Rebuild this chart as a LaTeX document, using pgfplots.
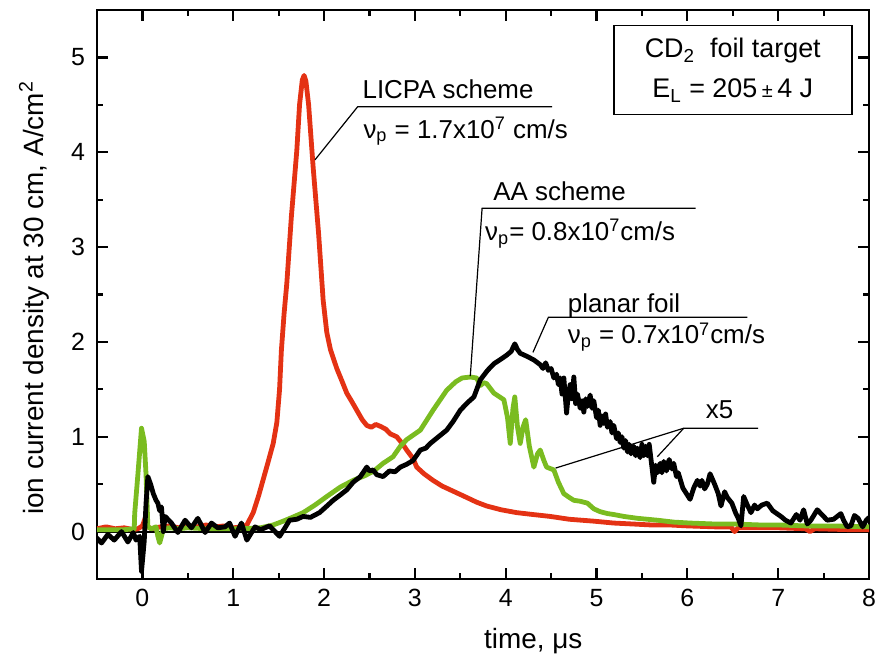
\documentclass[border=0pt]{standalone}
\usepackage{fontspec}
\setmainfont{Liberation Sans}
\usepackage{pgfplots}
\pgfplotsset{compat=1.18}
\definecolor{licpa}{RGB}{228,50,20}
\definecolor{aagreen}{RGB}{122,188,32}
\newcommand{\annfont}{\fontsize{13}{15}\selectfont}
\begin{document}
\begin{tikzpicture}
\begin{axis}[
  scale only axis, width=386bp, height=284.5bp,
  xmin=-0.5, xmax=8, ymin=-0.5, ymax=5.5,
  xtick={0,1,2,3,4,5,6,7,8}, ytick={0,1,2,3,4,5},
  minor x tick num=1, minor y tick num=1,
  xtick pos=both, ytick pos=both,
  xticklabel pos=lower, yticklabel pos=left,
  tick align=inside, major tick length=5.3bp, minor tick length=2.8bp,
  axis line style={line width=1.2bp},
  every tick/.style={black, line width=1.1bp},
  /pgf/number format/assume math mode=true,
  tick label style={font=\fontsize{12.5}{14}\selectfont},
  xticklabel style={yshift=-1.5bp},
  yticklabel style={xshift=-2.5bp},
  xlabel={time, μs},
  ylabel={ion current density at 30 cm, A/cm\textsuperscript{2}},
  label style={font=\fontsize{14}{16}\selectfont},
  xlabel style={at={(axis description cs:0.565,0)}, anchor=base, yshift=-34.5bp},
  ylabel style={at={(axis description cs:-0.0699,0.494)}, anchor=base},
  clip=true,
]
\addplot[black, line width=1bp] coordinates {(-0.5,0) (8,0)};
% LICPA scheme (red)
\addplot[licpa, line width=2.4bp, line join=round] coordinates {
(-0.5,0.03) (-0.4,0.05) (-0.3,0.03) (-0.2,0.04) (-0.1,0.02) (-0.05,0.03) (0.0,0.06) (0.03,0.14) (0.06,0.05)
(0.1,0.03) (0.2,0.05) (0.3,0.06) (0.4,0.04) (0.5,0.06) (0.6,0.05) (0.7,0.07) (0.8,0.05) (0.9,0.06)
(1.0,0.04) (1.1,0.05) (1.15,0.07) (1.22,0.2) (1.28,0.38) (1.33,0.55) (1.38,0.72) (1.44,0.93) (1.48,1.15)
(1.51,1.5) (1.53,1.91) (1.56,2.3) (1.59,2.62) (1.64,3.32) (1.70,4.02) (1.73,4.5) (1.76,4.76) (1.78,4.81)
(1.80,4.75) (1.83,4.5) (1.88,3.84) (1.94,3.14) (1.99,2.44) (2.03,2.1) (2.07,1.92) (2.14,1.72) (2.2,1.58)
(2.25,1.46) (2.3,1.38) (2.36,1.28) (2.42,1.18) (2.47,1.12) (2.52,1.1) (2.57,1.13) (2.62,1.11) (2.68,1.08)
(2.73,1.03) (2.80,1.0) (2.86,0.93) (2.91,0.86) (2.98,0.77) (3.02,0.68) (3.1,0.61) (3.2,0.54) (3.3,0.48)
(3.39,0.44) (3.48,0.40) (3.57,0.36) (3.68,0.31) (3.79,0.27) (3.95,0.23) (4.12,0.20) (4.3,0.18) (4.49,0.16)
(4.7,0.13) (4.97,0.11) (5.19,0.09) (5.4,0.08) (5.6,0.07) (5.8,0.07) (6.0,0.06) (6.3,0.05) (6.48,0.05)
(6.52,0.0) (6.56,0.04) (7.0,0.04) (7.3,0.03) (7.35,0.0) (7.4,0.03) (7.8,0.02) (8.0,0.02)
};
% AA scheme (green)
\addplot[aagreen, line width=2.4bp, line join=round] coordinates {
(-0.5,0.02) (-0.2,0.02) (-0.09,0.03) (-0.085,0.19) (-0.05,0.6) (-0.01,1.09) (0.02,0.95) (0.04,0.6)
(0.06,0.05) (0.1,0.03) (0.15,0.05) (0.17,-0.05) (0.19,-0.12) (0.21,-0.05) (0.23,0.03) (0.3,0.04)
(0.4,0.03) (0.5,0.04) (0.7,0.03) (0.9,0.03) (1.1,0.03) (1.3,0.04) (1.44,0.07) (1.55,0.11) (1.65,0.15)
(1.77,0.2) (1.9,0.28) (2.03,0.37) (2.18,0.47) (2.32,0.54) (2.45,0.59) (2.55,0.64) (2.65,0.72)
(2.76,0.79) (2.84,0.9) (2.91,0.97) (3.06,1.07) (3.2,1.28) (3.35,1.49) (3.45,1.58) (3.52,1.62)
(3.61,1.63) (3.68,1.62) (3.72,1.54) (3.76,1.57) (3.79,1.56) (3.87,1.46) (3.98,1.39) (4.02,1.2)
(4.05,0.93) (4.08,1.3) (4.10,1.42) (4.13,1.1) (4.16,0.93) (4.19,1.1) (4.22,1.18) (4.26,0.9)
(4.31,0.68) (4.35,0.82) (4.38,0.86) (4.42,0.75) (4.45,0.68) (4.53,0.65) (4.58,0.52) (4.64,0.40)
(4.70,0.36) (4.75,0.33) (4.82,0.32) (4.9,0.30) (4.97,0.24) (5.04,0.21) (5.12,0.19) (5.19,0.18)
(5.3,0.16) (5.45,0.14) (5.67,0.12) (5.85,0.10) (6.03,0.09) (6.3,0.08) (6.51,0.08) (6.8,0.07)
(7.0,0.07) (7.3,0.06) (7.6,0.06) (8.0,0.05)
};
% planar foil (black)
\addplot[black, line width=2.4bp, line join=round] coordinates {
(-0.52,-0.05) (-0.45,-0.12) (-0.38,-0.03) (-0.31,-0.09) (-0.23,0.0) (-0.16,-0.11) (-0.10,-0.01)
(-0.07,-0.09) (-0.03,-0.05) (-0.01,-0.42) (0.02,-0.1) (0.04,0.3) (0.06,0.58) (0.09,0.5) (0.12,0.40)
(0.15,0.33) (0.17,0.30) (0.19,0.22) (0.21,0.26) (0.23,0.0) (0.25,0.16) (0.32,0.09) (0.39,-0.01)
(0.47,0.12) (0.54,0.04) (0.61,0.14) (0.69,-0.01) (0.76,0.09) (0.83,0.04) (0.91,0.05) (0.96,0.09)
(1.02,-0.05) (1.09,0.09) (1.15,-0.09) (1.24,0.05) (1.30,0.02) (1.35,0.04) (1.40,0.06) (1.46,0.0)
(1.51,-0.05) (1.57,0.04) (1.62,0.12) (1.70,0.13) (1.77,0.16) (1.85,0.15) (1.95,0.2) (2.02,0.26)
(2.10,0.33) (2.17,0.38) (2.25,0.44) (2.32,0.52) (2.40,0.58) (2.47,0.68) (2.50,0.64) (2.54,0.65)
(2.58,0.60) (2.65,0.58) (2.72,0.64) (2.78,0.63) (2.84,0.68) (2.91,0.71) (2.98,0.75) (3.06,0.86)
(3.12,0.88) (3.17,0.93) (3.26,1.0) (3.35,1.07) (3.42,1.16) (3.50,1.28) (3.58,1.36) (3.65,1.42)
(3.72,1.60) (3.80,1.70) (3.87,1.77) (3.95,1.82) (4.01,1.86) (4.06,1.90) (4.10,1.98) (4.13,1.92)
(4.16,1.88) (4.23,1.85) (4.31,1.81) (4.38,1.76) (4.41,1.72) (4.44,1.78) (4.47,1.70) (4.50,1.72)
(4.53,1.62) (4.56,1.66) (4.58,1.55) (4.60,1.62) (4.62,1.45) (4.64,1.62) (4.67,1.25) (4.69,1.45)
(4.71,1.55) (4.73,1.40) (4.75,1.63) (4.77,1.35) (4.79,1.45) (4.82,1.30) (4.84,1.38) (4.86,1.26)
(4.88,1.40) (4.90,1.32) (4.93,1.44) (4.95,1.30) (4.97,1.38) (5.00,1.20) (5.02,1.28) (5.04,1.12)
(5.06,1.22) (5.08,1.14) (5.10,1.24) (5.12,1.10) (5.15,1.16) (5.17,1.04) (5.19,1.12) (5.22,0.98)
(5.24,1.04) (5.26,0.94) (5.28,1.00) (5.30,0.88) (5.32,0.96) (5.34,0.84) (5.36,0.92) (5.38,0.82)
(5.41,0.90) (5.43,0.80) (5.45,0.88) (5.48,0.78) (5.50,0.92) (5.52,0.80) (5.54,0.90) (5.56,0.80)
(5.58,0.92) (5.60,0.76) (5.63,0.52) (5.65,0.70) (5.67,0.62) (5.70,0.72) (5.72,0.62) (5.74,0.74)
(5.77,0.64) (5.80,0.76) (5.83,0.66) (5.85,0.72) (5.88,0.58) (5.90,0.62) (5.95,0.46) (6.03,0.34)
(6.07,0.46) (6.11,0.54) (6.14,0.48) (6.16,0.54) (6.19,0.45) (6.22,0.50) (6.25,0.61) (6.30,0.50)
(6.34,0.40) (6.37,0.27) (6.41,0.42) (6.44,0.36) (6.49,0.30) (6.53,0.20) (6.56,0.14) (6.59,0.06)
(6.62,0.37) (6.66,0.28) (6.70,0.20) (6.74,0.28) (6.77,0.24) (6.82,0.28) (6.88,0.30) (6.94,0.22)
(7.03,0.16) (7.08,0.12) (7.14,0.09) (7.20,0.18) (7.24,0.12) (7.28,0.23) (7.32,0.08) (7.36,0.12)
(7.43,0.23) (7.48,0.18) (7.54,0.12) (7.61,0.13) (7.69,0.19) (7.72,0.12) (7.76,0.05) (7.80,0.06)
(7.84,0.17) (7.88,0.14) (7.93,0.05) (7.97,0.12) (8.0,0.15)
};
% annotations
\draw[line width=0.6bp] (axis cs:1.90,3.92) -- (axis cs:2.37,4.48) -- (axis cs:4.51,4.48);
\node[anchor=base west, font=\annfont, inner sep=0pt] at (axis cs:2.42,4.57) {LICPA scheme};
\node[anchor=base west, font=\annfont, inner sep=0pt] at (axis cs:2.43,4.15) {ν\textsubscript{p} = 1.7x10\textsuperscript{7} cm/s};
\draw[line width=0.6bp] (axis cs:3.61,1.64) -- (axis cs:3.74,3.41) -- (axis cs:6.09,3.41);
\node[anchor=base west, font=\annfont, inner sep=0pt] at (axis cs:3.86,3.49) {AA scheme};
\node[anchor=base west, font=\annfont, inner sep=0pt] at (axis cs:3.77,3.07) {ν\textsubscript{p}= 0.8x10\textsuperscript{7}cm/s};
\draw[line width=0.6bp] (axis cs:4.30,1.89) -- (axis cs:4.47,2.26) -- (axis cs:6.66,2.26);
\node[anchor=base west, font=\annfont, inner sep=0pt] at (axis cs:4.68,2.31) {planar foil};
\node[anchor=base west, font=\annfont, inner sep=0pt] at (axis cs:4.68,1.98) {ν\textsubscript{p} = 0.7x10\textsuperscript{7}cm/s};
\draw[line width=0.6bp] (axis cs:4.55,0.67) -- (axis cs:5.96,1.09) -- (axis cs:6.78,1.09);
\draw[line width=0.6bp] (axis cs:5.67,0.79) -- (axis cs:5.96,1.09);
\node[anchor=base west, font=\annfont, inner sep=0pt] at (axis cs:6.20,1.19) {x5};
\node[draw, line width=0.75bp, minimum width=119bp, minimum height=44.5bp, inner sep=0pt, align=center,
      font=\fontsize{13.5}{20}\selectfont, fill=white] at (axis cs:6.50,4.865)
  {CD\textsubscript{2}\ \ foil target\\E\textsubscript{L} = 205\,{\fontsize{10}{12}\selectfont ±}\,4 J};
\end{axis}
\pgfresetboundingbox
\path ([shift={(-48.5bp,-38.5bp)}]current axis.south west) rectangle ([shift={(4bp,5bp)}]current axis.north east);
\end{tikzpicture}
\end{document}
